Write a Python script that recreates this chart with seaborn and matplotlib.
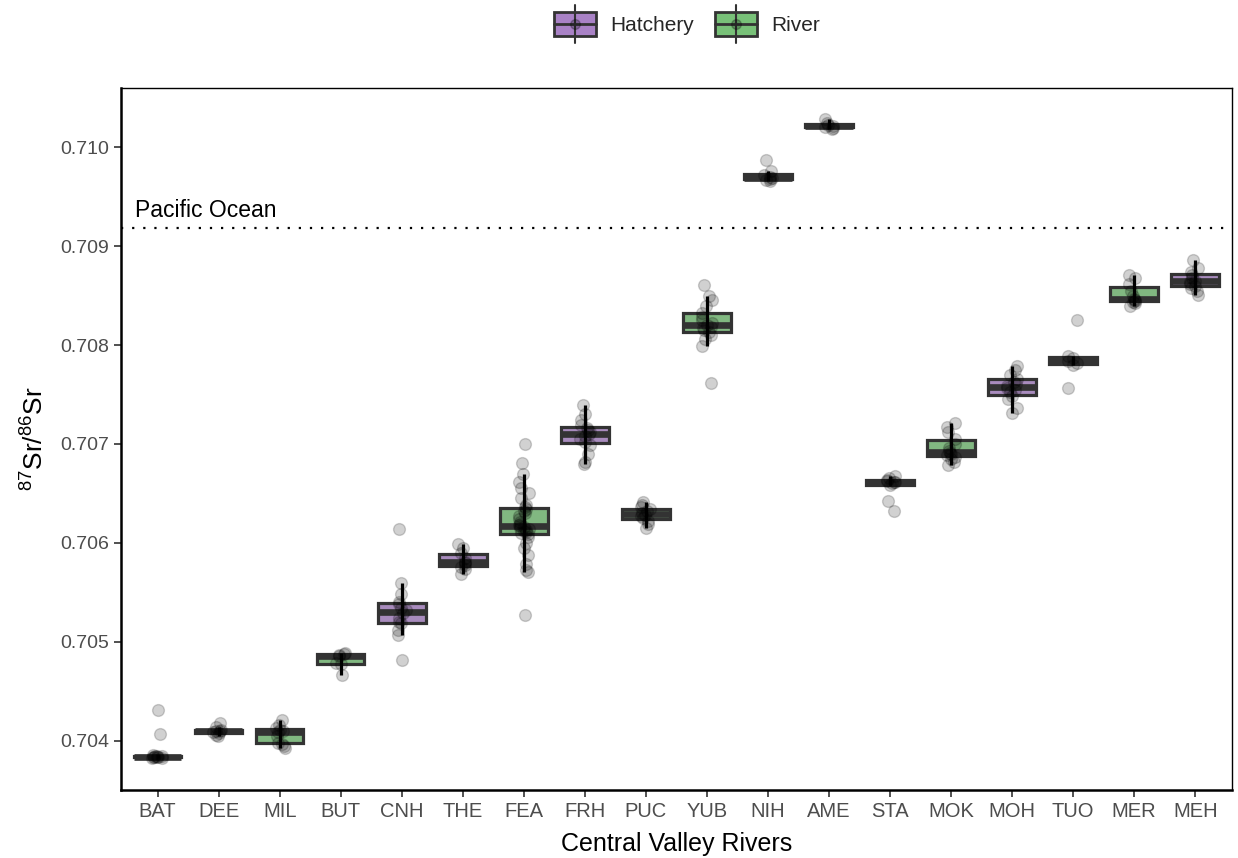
import numpy as np
import pandas as pd
import matplotlib
matplotlib.use("Agg")
import matplotlib.pyplot as plt
from matplotlib.patches import Rectangle
from matplotlib.lines import Line2D
from matplotlib.legend_handler import HandlerBase
import seaborn as sns

sns.set_theme(style="white")
plt.rcParams['font.family'] = ['Liberation Sans', 'DejaVu Sans']
plt.rcParams['mathtext.default'] = 'regular'

np.random.seed(3)

# site codes in plot order, and whether each is a hatchery or a river
sites = ["BAT", "DEE", "MIL", "BUT", "CNH", "THE", "FEA", "FRH", "PUC",
         "YUB", "NIH", "AME", "STA", "MOK", "MOH", "TUO", "MER", "MEH"]
source = ["River", "River", "River", "River", "Hatchery", "Hatchery", "River", "Hatchery", "River",
          "River", "Hatchery", "River", "River", "River", "Hatchery", "River", "River", "Hatchery"]

# 87Sr/86Sr values
bat = [0.70431, 0.70407, 0.70384, 0.70383, 0.70382, 0.70384, 0.70385, 0.70383,
       0.70383, 0.70384, 0.70382, 0.70383]
dee = [0.70418, 0.70414, 0.70411, 0.70410, 0.70409, 0.70408, 0.70406, 0.70405, 0.70410]
mil = [0.70421, 0.70416, 0.70413, 0.70411, 0.70410, 0.70409, 0.70405, 0.70398,
       0.70394, 0.70392, 0.70396]
but = [0.70489, 0.70488, 0.70485, 0.70478, 0.70466, 0.70477, 0.70487]
cnh = [0.70614, 0.70559, 0.70548, 0.70540, 0.70538, 0.70534, 0.70532, 0.70529,
       0.70524, 0.70520, 0.70519, 0.70512, 0.70507, 0.70481]
the = [0.70599, 0.70595, 0.70590, 0.70585, 0.70581, 0.70580, 0.70578, 0.70576,
       0.70573, 0.70568]
fea = [0.70700, 0.70681, 0.70670, 0.70662, 0.70655, 0.70650, 0.70645, 0.70638,
       0.70636, 0.70634, 0.70632, 0.70630, 0.70627, 0.70624, 0.70621, 0.70619,
       0.70618, 0.70617, 0.70616, 0.70615, 0.70614, 0.70613, 0.70612, 0.70611,
       0.70610, 0.70609, 0.70606, 0.70600, 0.70595, 0.70588, 0.70579, 0.70572,
       0.70570, 0.70527]
frh = [0.70739, 0.70730, 0.70724, 0.70719, 0.70716, 0.70714, 0.70712, 0.70710,
       0.70708, 0.70705, 0.70702, 0.70699, 0.70690, 0.70682, 0.70680]
puc = [0.70641, 0.70638, 0.70636, 0.70634, 0.70632, 0.70630, 0.70628, 0.70627,
       0.70625, 0.70622, 0.70619, 0.70615]
yub = [0.70861, 0.70850, 0.70846, 0.70840, 0.70832, 0.70828, 0.70825, 0.70822,
       0.70820, 0.70818, 0.70817, 0.70815, 0.70813, 0.70810, 0.70806, 0.70799, 0.70762]
nih = [0.70987, 0.70976, 0.70972, 0.70970, 0.70969, 0.70968, 0.70967, 0.70966]
ame = [0.71029, 0.71025, 0.71023, 0.71022, 0.71021, 0.71020, 0.71019]
sta = [0.70668, 0.70666, 0.70664, 0.70663, 0.70662, 0.70661, 0.70660, 0.70658,
       0.70642, 0.70632]
mok = [0.70721, 0.70717, 0.70712, 0.70705, 0.70700, 0.70696, 0.70693, 0.70691,
       0.70690, 0.70689, 0.70687, 0.70685, 0.70682, 0.70679]
moh = [0.70779, 0.70775, 0.70770, 0.70766, 0.70763, 0.70761, 0.70759, 0.70757,
       0.70755, 0.70753, 0.70748, 0.70745, 0.70736, 0.70731]
tuo = [0.70825, 0.70789, 0.70787, 0.70784, 0.70782, 0.70780, 0.70757]
mer = [0.70871, 0.70868, 0.70862, 0.70855, 0.70850, 0.70847, 0.70846, 0.70845,
       0.70844, 0.70843, 0.70840]
meh = [0.70886, 0.70878, 0.70874, 0.70871, 0.70868, 0.70865, 0.70864, 0.70862,
       0.70860, 0.70858, 0.70855, 0.70851]

site_values = [bat, dee, mil, but, cnh, the, fea, frh, puc,
               yub, nih, ame, sta, mok, moh, tuo, mer, meh]

pacific = 0.70918

rows = []
for s, src, vals in zip(sites, source, site_values):
    for v in vals:
        rows.append({"site": s, "source": src, "ratio": v})
df = pd.DataFrame(rows)

colors = {"Hatchery": "#A982C6", "River": "#78C178"}
edge = "#333333"


class BoxHandler(HandlerBase):
    def create_artists(self, legend, orig_handle, xdescent, ydescent,
                       width, height, fontsize, trans):
        x0, y0 = -xdescent, -ydescent
        cx = x0 + width / 2
        whisk = Line2D([cx, cx], [y0 - 0.3 * height, y0 + 1.3 * height],
                       color=edge, lw=1.5, transform=trans)
        box = Rectangle((x0, y0), width, height, facecolor=orig_handle.get_facecolor(),
                        edgecolor=edge, lw=2, transform=trans)
        med = Line2D([x0, x0 + width], [y0 + height / 2] * 2, color=edge, lw=2,
                     transform=trans)
        dot = Line2D([cx], [y0 + height / 2], marker="o", ms=7, color="black",
                     alpha=0.25, transform=trans)
        return [box, whisk, med, dot]


fig = plt.figure(figsize=(12.38, 8.58), dpi=100)
ax = fig.add_axes([0.0977, 0.0793, 0.8973, 0.8181])

sns.boxplot(data=df, x="site", y="ratio", hue="source", order=sites,
            palette=colors, dodge=False, width=0.78, whis=0,
            showfliers=False, showcaps=False,
            boxprops=dict(edgecolor=edge, linewidth=2.3),
            medianprops=dict(color=edge, linewidth=4.8),
            whiskerprops=dict(linewidth=0),
            legend=False, ax=ax)

sns.stripplot(data=df, x="site", y="ratio", order=sites, color="black",
              alpha=0.18, jitter=0.09, size=8.5, linewidth=1, edgecolor="black",
              ax=ax, zorder=3)

# whisker line (1.5 IQR rule) drawn right through the box
for i, vals in enumerate(site_values):
    v = np.array(vals)
    q1, q3 = np.percentile(v, [25, 75])
    iqr = q3 - q1
    lo = v[v >= q1 - 1.5 * iqr].min()
    hi = v[v <= q3 + 1.5 * iqr].max()
    ax.vlines(i, lo, hi, color="black", linewidth=2.3, zorder=4)

ax.axhline(pacific, color="black", linestyle=(0, (1, 4)), linewidth=1.6, zorder=0)
ax.text(-0.37, pacific + 0.00006, "Pacific Ocean", fontsize=16.5, color="black",
        ha="left", va="bottom")

ax.set_ylim(0.70350, 0.71060)
ax.set_xlim(-0.6, len(sites) - 0.4)
ax.set_yticks([0.704, 0.705, 0.706, 0.707, 0.708, 0.709, 0.710])
ax.set_yticklabels(["0.704", "0.705", "0.706", "0.707", "0.708", "0.709", "0.710"])
ax.tick_params(axis="both", colors="#333333", length=5, width=1.2,
               labelsize=14, labelcolor="#4D4D4D", bottom=True, left=True)
ax.tick_params(axis="x", labelsize=14.5)
ax.set_xlabel("Central Valley Rivers", fontsize=18, color="black", labelpad=8)
ax.set_ylabel("$^{87}$Sr/$^{86}$Sr", fontsize=19, color="black", labelpad=8)

for side in ["left", "bottom"]:
    ax.spines[side].set_linewidth(1.8)
    ax.spines[side].set_color("black")
for side in ["top", "right"]:
    ax.spines[side].set_linewidth(1.0)
    ax.spines[side].set_color("black")

handles = [Rectangle((0, 0), 1, 1, facecolor=colors["Hatchery"]),
           Rectangle((0, 0), 1, 1, facecolor=colors["River"])]
fig.legend(handles, ["Hatchery", "River"], loc="upper center",
           bbox_to_anchor=(0.555, 1.008), ncol=2, frameon=False, fontsize=15,
           handler_map={Rectangle: BoxHandler()}, handlelength=2.0,
           handleheight=1.4, columnspacing=1.0, handletextpad=0.7)

fig.savefig("out.png", dpi=100)
